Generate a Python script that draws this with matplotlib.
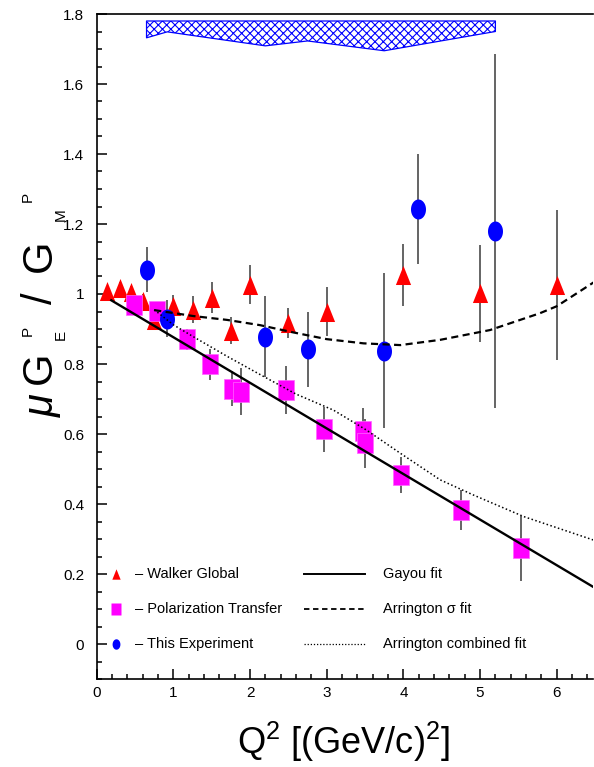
import matplotlib
matplotlib.use('Agg')
import matplotlib.pyplot as plt
from matplotlib.ticker import MultipleLocator, FormatStrFormatter
import numpy as np

plt.rcParams['font.family'] = ['Liberation Sans', 'DejaVu Sans']
plt.rcParams['mathtext.fontset'] = 'custom'
plt.rcParams['mathtext.rm'] = 'Liberation Sans'
plt.rcParams['mathtext.it'] = 'Liberation Sans:italic'
plt.rcParams['hatch.linewidth'] = 0.8
plt.rcParams['hatch.color'] = '#0000ff'

# ---------------- data ----------------
walker_q2 = [0.14, 0.30, 0.45, 0.60, 0.75, 1.00, 1.25, 1.50, 1.75, 2.00, 2.50, 3.00, 4.00, 5.00, 6.00]
walker_r = [1.008, 1.018, 1.007, 0.979, 0.926, 0.966, 0.955, 0.990, 0.895, 1.027, 0.916, 0.950, 1.054, 1.002, 1.026]
walker_err = [0.015, 0.015, 0.015, 0.02, 0.02, 0.03, 0.038, 0.043, 0.038, 0.055, 0.043, 0.069, 0.088, 0.139, 0.215]

pol_q2 = [0.49, 0.79, 1.18, 1.48, 1.77, 1.88, 2.47, 2.97, 3.47, 3.50, 3.97, 4.75, 5.54]
pol_r = [0.968, 0.952, 0.871, 0.799, 0.729, 0.721, 0.726, 0.613, 0.610, 0.573, 0.483, 0.383, 0.273]
pol_err = [0.015, 0.02, 0.03, 0.045, 0.05, 0.067, 0.068, 0.065, 0.063, 0.07, 0.052, 0.056, 0.092]

exp_q2 = [0.65, 0.92, 2.20, 2.75, 3.75, 4.19, 5.19]
exp_r = [1.070, 0.929, 0.878, 0.842, 0.838, 1.243, 1.180]
exp_err = [0.065, 0.053, 0.115, 0.108, 0.222, 0.157, 0.507]
exp_syst = [0.048, 0.031, 0.071, 0.057, 0.085, 0.030]
syst_q2 = [0.65, 0.92, 2.20, 2.75, 3.75, 5.20]
band_top = 1.78

gayou_q2 = [0.19, 6.50]
gayou_r = [0.982, 0.160]

arr_sigma_q2 = [0.75, 1.26, 1.70, 2.13, 2.57, 3.00, 3.48, 3.96, 4.48, 5.13, 5.78, 6.00, 6.48]
arr_sigma_r = [0.954, 0.937, 0.926, 0.911, 0.890, 0.871, 0.859, 0.854, 0.869, 0.897, 0.945, 0.965, 1.033]

arr_comb_q2 = [0.75, 1.00, 1.26, 1.70, 2.13, 2.60, 3.09, 3.52, 3.96, 4.48, 4.91, 5.57, 6.48]
arr_comb_r = [0.955, 0.912, 0.878, 0.822, 0.770, 0.714, 0.668, 0.611, 0.545, 0.469, 0.426, 0.364, 0.297]

legend_markers = ['\u2013 Walker Global', '\u2013 Polarization Transfer', '\u2013 This Experiment']
legend_lines = ['Gayou fit', 'Arrington \u03c3 fit', 'Arrington combined fit']

# ---------------- figure ----------------
W, H = 594, 767
fig = plt.figure(figsize=(W / 100, H / 100), dpi=100)
ax = fig.add_axes([96.7 / W, 1 - 679 / H, (593 - 96.7) / W, (679 - 14) / H])
ax.set_xlim(0, 6.473)
ax.set_ylim(-0.1, 1.8)

# marker shapes (stretched vertically like the reference)
tri = [(-0.4, -0.5), (0.4, -0.5), (0.0, 0.5), (-0.4, -0.5)]
sq = [(-0.42, -0.5), (0.42, -0.5), (0.42, 0.5), (-0.42, 0.5), (-0.42, -0.5)]
th = np.linspace(0, 2 * np.pi, 60)
ell = list(zip(0.375 * np.cos(th), 0.5 * np.sin(th)))

ecol = '#3a3a3a'
# systematic band
sb = np.array(syst_q2)
ax.fill_between(sb, band_top - np.array(exp_syst), band_top, facecolor='none',
                edgecolor='#0000ff', hatch='xxxx', linewidth=0.9, zorder=1)

# fits
ax.plot(gayou_q2, gayou_r, color='black', lw=1.7, zorder=4)
ax.plot(arr_sigma_q2, arr_sigma_r, color='black', lw=1.6, ls=(0, (3.2, 2.0)), zorder=4)
ax.plot(arr_comb_q2, arr_comb_r, color='black', lw=1.1, ls=(0, (1.0, 1.6)), zorder=4)

# data
ax.errorbar(walker_q2, walker_r, yerr=walker_err, fmt='none', ecolor=ecol, elinewidth=1.1, capsize=0, zorder=2)
ax.plot(walker_q2, walker_r, ls='none', marker=tri, ms=13.7, color='#ff0000', mec='none', zorder=3)
ax.errorbar(pol_q2, pol_r, yerr=pol_err, fmt='none', ecolor=ecol, elinewidth=1.1, capsize=0, zorder=3.1)
ax.plot(pol_q2, pol_r, ls='none', marker=sq, ms=13.7, color='#ff00ff', mec='#ff66ff', mew=0.5, zorder=3.2)
ax.errorbar(exp_q2, exp_r, yerr=exp_err, fmt='none', ecolor=ecol, elinewidth=1.1, capsize=0, zorder=3.3)
ax.plot(exp_q2, exp_r, ls='none', marker=ell, ms=14.4, color='#0000ff', mec='none', zorder=3.4)

# legend (manual, ROOT-like)
ly = [0.2, 0.1, 0.0]
ax.plot([0.253], [ly[0]], marker=tri, ms=7.5, color='#ff0000', mec='none', ls='none', clip_on=False, zorder=5)
ax.plot([0.253], [ly[1]], marker=sq, ms=8, color='#ff00ff', mec='none', ls='none', clip_on=False, zorder=5)
ax.plot([0.253], [ly[2]], marker=ell, ms=7.5, color='#0000ff', mec='none', ls='none', clip_on=False, zorder=5)
for yy, t in zip(ly, legend_markers):
    ax.text(0.50, yy, t, fontsize=10.5, va='center', ha='left', zorder=5)
ax.plot([2.7, 3.5], [ly[0]] * 2, color='black', lw=1.4)
ax.plot([2.7, 3.5], [ly[1]] * 2, color='black', lw=1.3, ls=(0, (3.0, 2.0)))
ax.plot([2.7, 3.5], [ly[2]] * 2, color='black', lw=0.9, ls=(0, (1.0, 1.5)))
for yy, t in zip(ly, legend_lines):
    ax.text(3.73, yy, t, fontsize=10.5, va='center', ha='left', zorder=5)

# axes styling
for s in ['left', 'bottom', 'top', 'right']:
    ax.spines[s].set_linewidth(1.2)
ax.spines['right'].set_visible(False)
ax.xaxis.set_major_locator(MultipleLocator(1))
ax.xaxis.set_minor_locator(MultipleLocator(0.2))
ax.yaxis.set_major_locator(MultipleLocator(0.2))
ax.yaxis.set_minor_locator(MultipleLocator(0.05))
ax.yaxis.set_major_formatter(FormatStrFormatter('%g'))
ax.xaxis.set_major_formatter(FormatStrFormatter('%g'))
ax.tick_params(which='both', direction='in', top=False, right=False, width=1.1)
ax.tick_params(which='major', length=7, labelsize=11)
ax.tick_params(which='minor', length=3.5)
ax.tick_params(axis='x', which='major', pad=5)
ax.tick_params(axis='y', which='major', pad=9)

# axis titles
def px(x, y):
    return x / W, 1 - y / H

fig.text(*px(343, 742), r'Q$^{2}$ [(GeV/c)$^{2}$]', fontsize=26, ha='center', va='center')

# y title built from pieces (rotated)
big = 30
small = 11
fig.text(*px(43, 406), '\u03bc', fontsize=big, rotation=90, ha='center', va='center', style='italic')
fig.text(*px(40, 368), 'G', fontsize=big, rotation=90, ha='center', va='center')
fig.text(*px(61, 335), 'E', fontsize=small, rotation=90, ha='center', va='center')
fig.text(*px(28, 331), 'P', fontsize=small, rotation=90, ha='center', va='center')
fig.text(*px(41, 298), '/', fontsize=big, rotation=90, ha='center', va='center')
fig.text(*px(40, 256), 'G', fontsize=big, rotation=90, ha='center', va='center')
fig.text(*px(61, 215), 'M', fontsize=small, rotation=90, ha='center', va='center')
fig.text(*px(28, 197), 'P', fontsize=small, rotation=90, ha='center', va='center')

fig.savefig('out.png', dpi=100)
